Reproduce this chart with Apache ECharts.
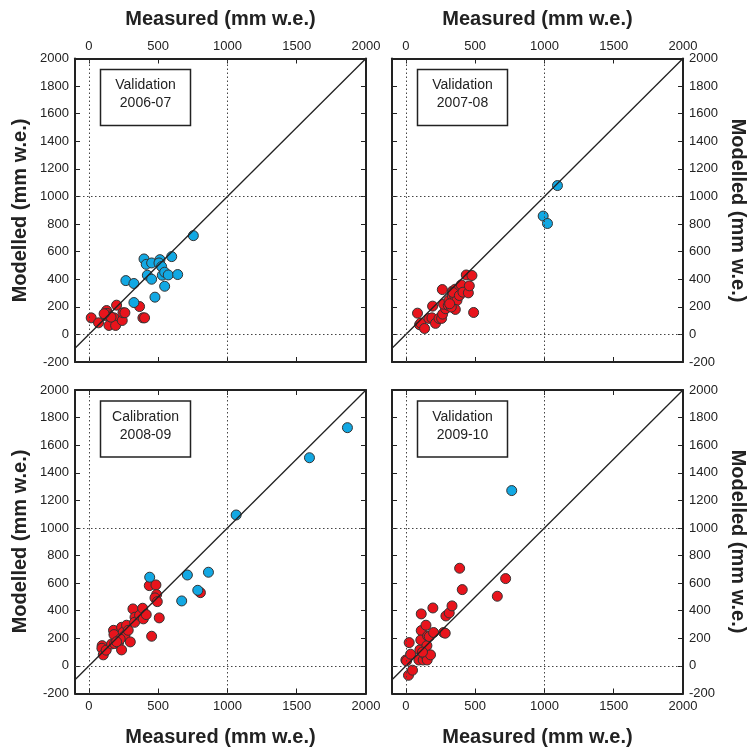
<!DOCTYPE html>
<html><head><meta charset="utf-8">
<script src="https://cdn.jsdelivr.net/npm/echarts@6/dist/echarts.min.js"></script>
<style>html,body{margin:0;padding:0;background:#fff}#c{width:749px;height:748px}</style>
</head><body><div id="c"></div>
<script>
// ---- data ----
const xTickValues = [0, 500, 1000, 1500, 2000];
const oneToOne = [[-100, -100], [2000, 2000]];
const panelLabels = ["Validation\n2006-07", "Validation\n2007-08", "Calibration\n2008-09", "Validation\n2009-10"];

const p1Blue = [[754,716],[398,547],[414,508],[453,518],[513,542],[506,518],[525,492],[598,564],[422,429],[453,400],[530,429],[547,451],[573,431],[641,434],[267,390],[325,369],[547,349],[477,270],[325,231]];
const p1Red = [[17,120],[70,84],[128,173],[133,152],[118,137],[149,133],[181,120],[200,212],[145,65],[193,65],[241,101],[246,157],[260,157],[366,202],[390,120],[402,120],[160,125],[110,150]];

const p2Blue = [[1094,1079],[991,858],[1022,804]];
const p2Red = [[84,154],[99,70],[108,82],[135,43],[166,116],[188,120],[193,205],[214,80],[239,116],[258,116],[265,147],[287,186],[272,219],[263,325],[306,210],[311,248],[335,280],[335,313],[357,328],[352,280],[340,304],[369,246],[386,282],[400,359],[357,181],[328,198],[412,306],[451,301],[458,352],[436,431],[477,427],[489,159],[316,222]];

const p3Blue = [[1063,1094],[439,643],[711,659],[863,679],[786,548],[670,471],[1592,1509],[1866,1727]];
const p3Red = [[96,147],[94,128],[104,80],[125,114],[164,159],[178,258],[181,227],[186,162],[214,167],[236,280],[236,116],[248,244],[260,220],[272,295],[284,258],[299,174],[318,413],[333,353],[330,316],[366,367],[388,418],[393,341],[414,372],[453,215],[436,582],[484,587],[489,517],[477,493],[494,466],[508,348],[805,531],[226,195],[200,175]];

const p4Blue = [[764,1271]];
const p4Red = [[19,-68],[48,-31],[0,43],[5,36],[34,85],[24,169],[94,43],[101,116],[111,256],[111,377],[108,188],[125,43],[135,85],[154,43],[145,295],[152,147],[157,217],[169,213],[178,80],[195,420],[200,242],[272,242],[284,237],[289,362],[313,384],[333,435],[388,708],[407,553],[660,505],[720,633],[120,100]];

const redSets = [p1Red, p2Red, p3Red, p4Red];
const blueSets = [p1Blue, p2Blue, p3Blue, p4Blue];

// ---- layout ----
const grids = [
  {left: 75, top: 58.5, width: 291, height: 303.5},
  {left: 392, top: 58.5, width: 291, height: 303.5},
  {left: 75, top: 390, width: 291, height: 303.5},
  {left: 392, top: 390, width: 291, height: 303.5}
];
const FONT = '"Liberation Sans", Arial, sans-serif';
const INK = '#222';
const plain = v => String(v);

function xAx(gi, pos, showLabel) {
  return {
    type: 'value', gridIndex: gi, position: pos, min: -100, max: 2000,
    axisLine: {show: true, onZero: false, lineStyle: {color: INK, width: 2}},
    axisTick: {show: true, inside: true, length: 5, customValues: xTickValues, lineStyle: {color: INK, width: 1}},
    axisLabel: {show: showLabel, customValues: xTickValues, formatter: plain, color: INK, fontSize: 13, fontFamily: FONT, margin: 6, showMinLabel: true, showMaxLabel: true},
    splitLine: {show: false}
  };
}
function yAx(gi, pos, showLabel) {
  return {
    type: 'value', gridIndex: gi, position: pos, min: -200, max: 2000, interval: 200,
    axisLine: {show: true, onZero: false, lineStyle: {color: INK, width: 2}},
    axisTick: {show: true, inside: true, length: 5, lineStyle: {color: INK, width: 1}},
    axisLabel: {show: showLabel, formatter: plain, color: INK, fontSize: 13, fontFamily: FONT, margin: 6, showMinLabel: true, showMaxLabel: true},
    splitLine: {show: false}
  };
}

const xAxes = [], yAxes = [], series = [];
for (let i = 0; i < 4; i++) {
  const top = i < 2, left = (i % 2 === 0);
  xAxes.push(xAx(i, 'bottom', !top));
  xAxes.push(xAx(i, 'top', top));
  yAxes.push(yAx(i, 'left', left));
  yAxes.push(yAx(i, 'right', !left));
  const xi = 2 * i, yi = 2 * i;
  series.push({
    type: 'line', xAxisIndex: xi, yAxisIndex: yi, data: [], z: 1, silent: true,
    markLine: {symbol: 'none', silent: true, label: {show: false}, animation: false,
      lineStyle: {type: [1.5, 2.5], color: '#444', width: 1},
      data: [{xAxis: 0}, {xAxis: 1000}, {yAxis: 0}, {yAxis: 1000}]}
  });
  series.push({
    type: 'scatter', xAxisIndex: xi, yAxisIndex: yi, data: redSets[i], symbolSize: 10, z: 3,
    itemStyle: {color: '#e8141c', borderColor: '#333', borderWidth: 1, opacity: 1}
  });
  series.push({
    type: 'scatter', xAxisIndex: xi, yAxisIndex: yi, data: blueSets[i], symbolSize: 10, z: 3,
    itemStyle: {color: '#12a8e3', borderColor: '#333', borderWidth: 1, opacity: 1}
  });
  series.push({
    type: 'line', xAxisIndex: xi, yAxisIndex: yi, data: oneToOne, symbol: 'none', z: 4, clip: true,
    lineStyle: {color: INK, width: 1.3}
  });
}

// ---- graphics: titles and boxes ----
const TF = 'bold 20px ' + FONT;
const graphic = [
  {type: 'text', x: 220.5, y: 19, style: {text: 'Measured (mm w.e.)', font: TF, fill: INK, align: 'center', verticalAlign: 'middle'}},
  {type: 'text', x: 537.5, y: 19, style: {text: 'Measured (mm w.e.)', font: TF, fill: INK, align: 'center', verticalAlign: 'middle'}},
  {type: 'text', x: 220.5, y: 737, style: {text: 'Measured (mm w.e.)', font: TF, fill: INK, align: 'center', verticalAlign: 'middle'}},
  {type: 'text', x: 537.5, y: 737, style: {text: 'Measured (mm w.e.)', font: TF, fill: INK, align: 'center', verticalAlign: 'middle'}},
  {type: 'text', x: 20, y: 210.5, rotation: Math.PI / 2, style: {text: 'Modelled (mm w.e.)', font: TF, fill: INK, align: 'center', verticalAlign: 'middle'}},
  {type: 'text', x: 20, y: 541.5, rotation: Math.PI / 2, style: {text: 'Modelled (mm w.e.)', font: TF, fill: INK, align: 'center', verticalAlign: 'middle'}},
  {type: 'text', x: 738, y: 210.5, rotation: -Math.PI / 2, style: {text: 'Modelled (mm w.e.)', font: TF, fill: INK, align: 'center', verticalAlign: 'middle'}},
  {type: 'text', x: 738, y: 541.5, rotation: -Math.PI / 2, style: {text: 'Modelled (mm w.e.)', font: TF, fill: INK, align: 'center', verticalAlign: 'middle'}}
];
const boxPos = [[100.5, 69.5], [417.5, 69.5], [100.5, 401], [417.5, 401]];
for (let i = 0; i < 4; i++) {
  const [bx, by] = boxPos[i];
  graphic.push({type: 'rect', shape: {x: bx, y: by, width: 90, height: 56}, style: {fill: '#fff', stroke: INK, lineWidth: 1.5}, z: 100});
  graphic.push({type: 'text', x: bx + 45, y: by + 25, z: 101, style: {text: panelLabels[i], font: '14px ' + FONT, lineHeight: 18, fill: INK, align: 'center', verticalAlign: 'middle'}});
}

const chart = echarts.init(document.getElementById('c'), null, {renderer: 'canvas'});
chart.setOption({
  animation: false,
  backgroundColor: '#fff',
  grid: grids,
  xAxis: xAxes,
  yAxis: yAxes,
  series: series,
  graphic: graphic
});
</script>
</body></html>
